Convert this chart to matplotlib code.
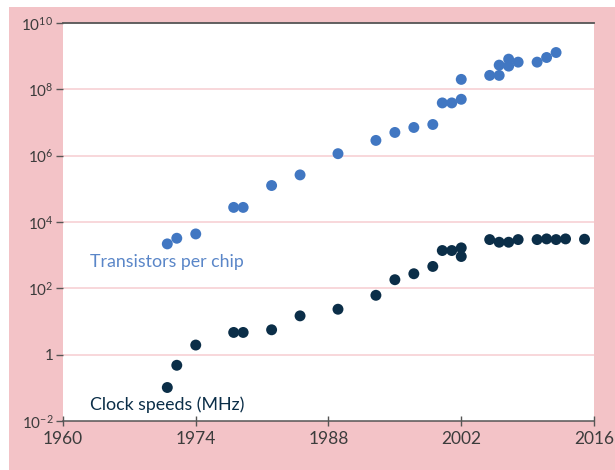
import matplotlib
matplotlib.use('Agg')
import matplotlib.pyplot as plt
from matplotlib.patches import Rectangle

plt.rcParams['font.family'] = ['Lato', 'DejaVu Sans']
plt.rcParams['mathtext.fontset'] = 'custom'
plt.rcParams['mathtext.rm'] = 'Lato'
plt.rcParams['mathtext.it'] = 'Lato:italic'

# Transistors per chip (log10 values)
trans_years = [1971, 1972, 1974, 1978, 1979, 1982, 1985, 1989, 1993, 1995,
               1997, 1999, 2000, 2001, 2002, 2002, 2005, 2006, 2006, 2007,
               2007, 2008, 2010, 2011, 2012]
trans_log = [3.34, 3.51, 3.64, 4.44, 4.44, 5.10, 5.42, 6.06, 6.46, 6.70,
             6.85, 6.94, 7.59, 7.59, 7.70, 8.30, 8.42, 8.42, 8.73, 8.91,
             8.70, 8.82, 8.82, 8.96, 9.11]

# Clock speeds in MHz (log10 values)
clock_years = [1971, 1972, 1974, 1978, 1979, 1982, 1985, 1989, 1993, 1995,
               1997, 1999, 2000, 2001, 2002, 2002, 2005, 2006, 2007, 2008,
               2010, 2011, 2012, 2013, 2015]
clock_log = [-0.99, -0.32, 0.29, 0.67, 0.67, 0.75, 1.17, 1.37, 1.79, 2.26,
             2.44, 2.66, 3.14, 3.14, 3.22, 2.96, 3.47, 3.39, 3.39, 3.47,
             3.47, 3.49, 3.47, 3.49, 3.48]

x_ticks = [1960, 1974, 1988, 2002, 2016]
y_ticks = [1e-2, 1, 1e2, 1e4, 1e6, 1e8, 1e10]
y_labels = ['$10^{-2}$', '1', '$10^{2}$', '$10^{4}$', '$10^{6}$', '$10^{8}$', '$10^{10}$']

pink = '#f3c3c7'
blue = '#4177c2'
navy = '#0b2e48'
dark = '#3c3c3c'

fig = plt.figure(figsize=(6.15, 4.7), dpi=100, facecolor='white')
bg = Rectangle((9 / 615, 0), 1, 1 - 7 / 470, transform=fig.transFigure,
               facecolor=pink, edgecolor='none', zorder=-10)
fig.add_artist(bg)

ax = fig.add_axes([63 / 615, 49 / 470, (594 - 63) / 615, (421 - 23) / 470])
ax.set_zorder(1)
ax.set_facecolor('white')
ax.set_yscale('log')
ax.set_xlim(1960, 2016)
ax.set_ylim(1e-2, 1e10)

ax.scatter(trans_years, [10 ** v for v in trans_log], s=62, color=blue,
           edgecolors='none', zorder=3, clip_on=False)
ax.scatter(clock_years, [10 ** v for v in clock_log], s=62, color=navy,
           edgecolors='none', zorder=3, clip_on=False)

ax.text(1962.9, 10 ** 2.8, 'Transistors per chip', color='#5a86c8',
        fontsize=12.8, va='center', ha='left')
ax.text(1962.9, 10 ** -1.5, 'Clock speeds (MHz)', color=navy,
        fontsize=12.8, va='center', ha='left')

for y in [1, 1e2, 1e4, 1e6, 1e8]:
    ax.axhline(y, color='#f6cdd1', lw=1.1, zorder=1)

for s in ['left', 'right']:
    ax.spines[s].set_visible(False)
ax.spines['top'].set_color('#555555')
ax.spines['top'].set_linewidth(1.3)
ax.spines['bottom'].set_color('#555555')
ax.spines['bottom'].set_linewidth(1.1)

ax.set_yticks(y_ticks)
ax.set_yticklabels(y_labels)
ax.yaxis.set_minor_locator(matplotlib.ticker.NullLocator())
ax.tick_params(axis='y', length=5, width=1, color='#555555', labelcolor=dark,
               labelsize=11, pad=2)

ax.set_xticks(x_ticks)
ax.set_xticklabels([str(x) for x in x_ticks])
ax.tick_params(axis='x', direction='inout', length=7, width=1, color='#555555',
               labelcolor=dark, labelsize=12.5, pad=4)

fig.savefig('out.png', dpi=100, facecolor=fig.get_facecolor())
